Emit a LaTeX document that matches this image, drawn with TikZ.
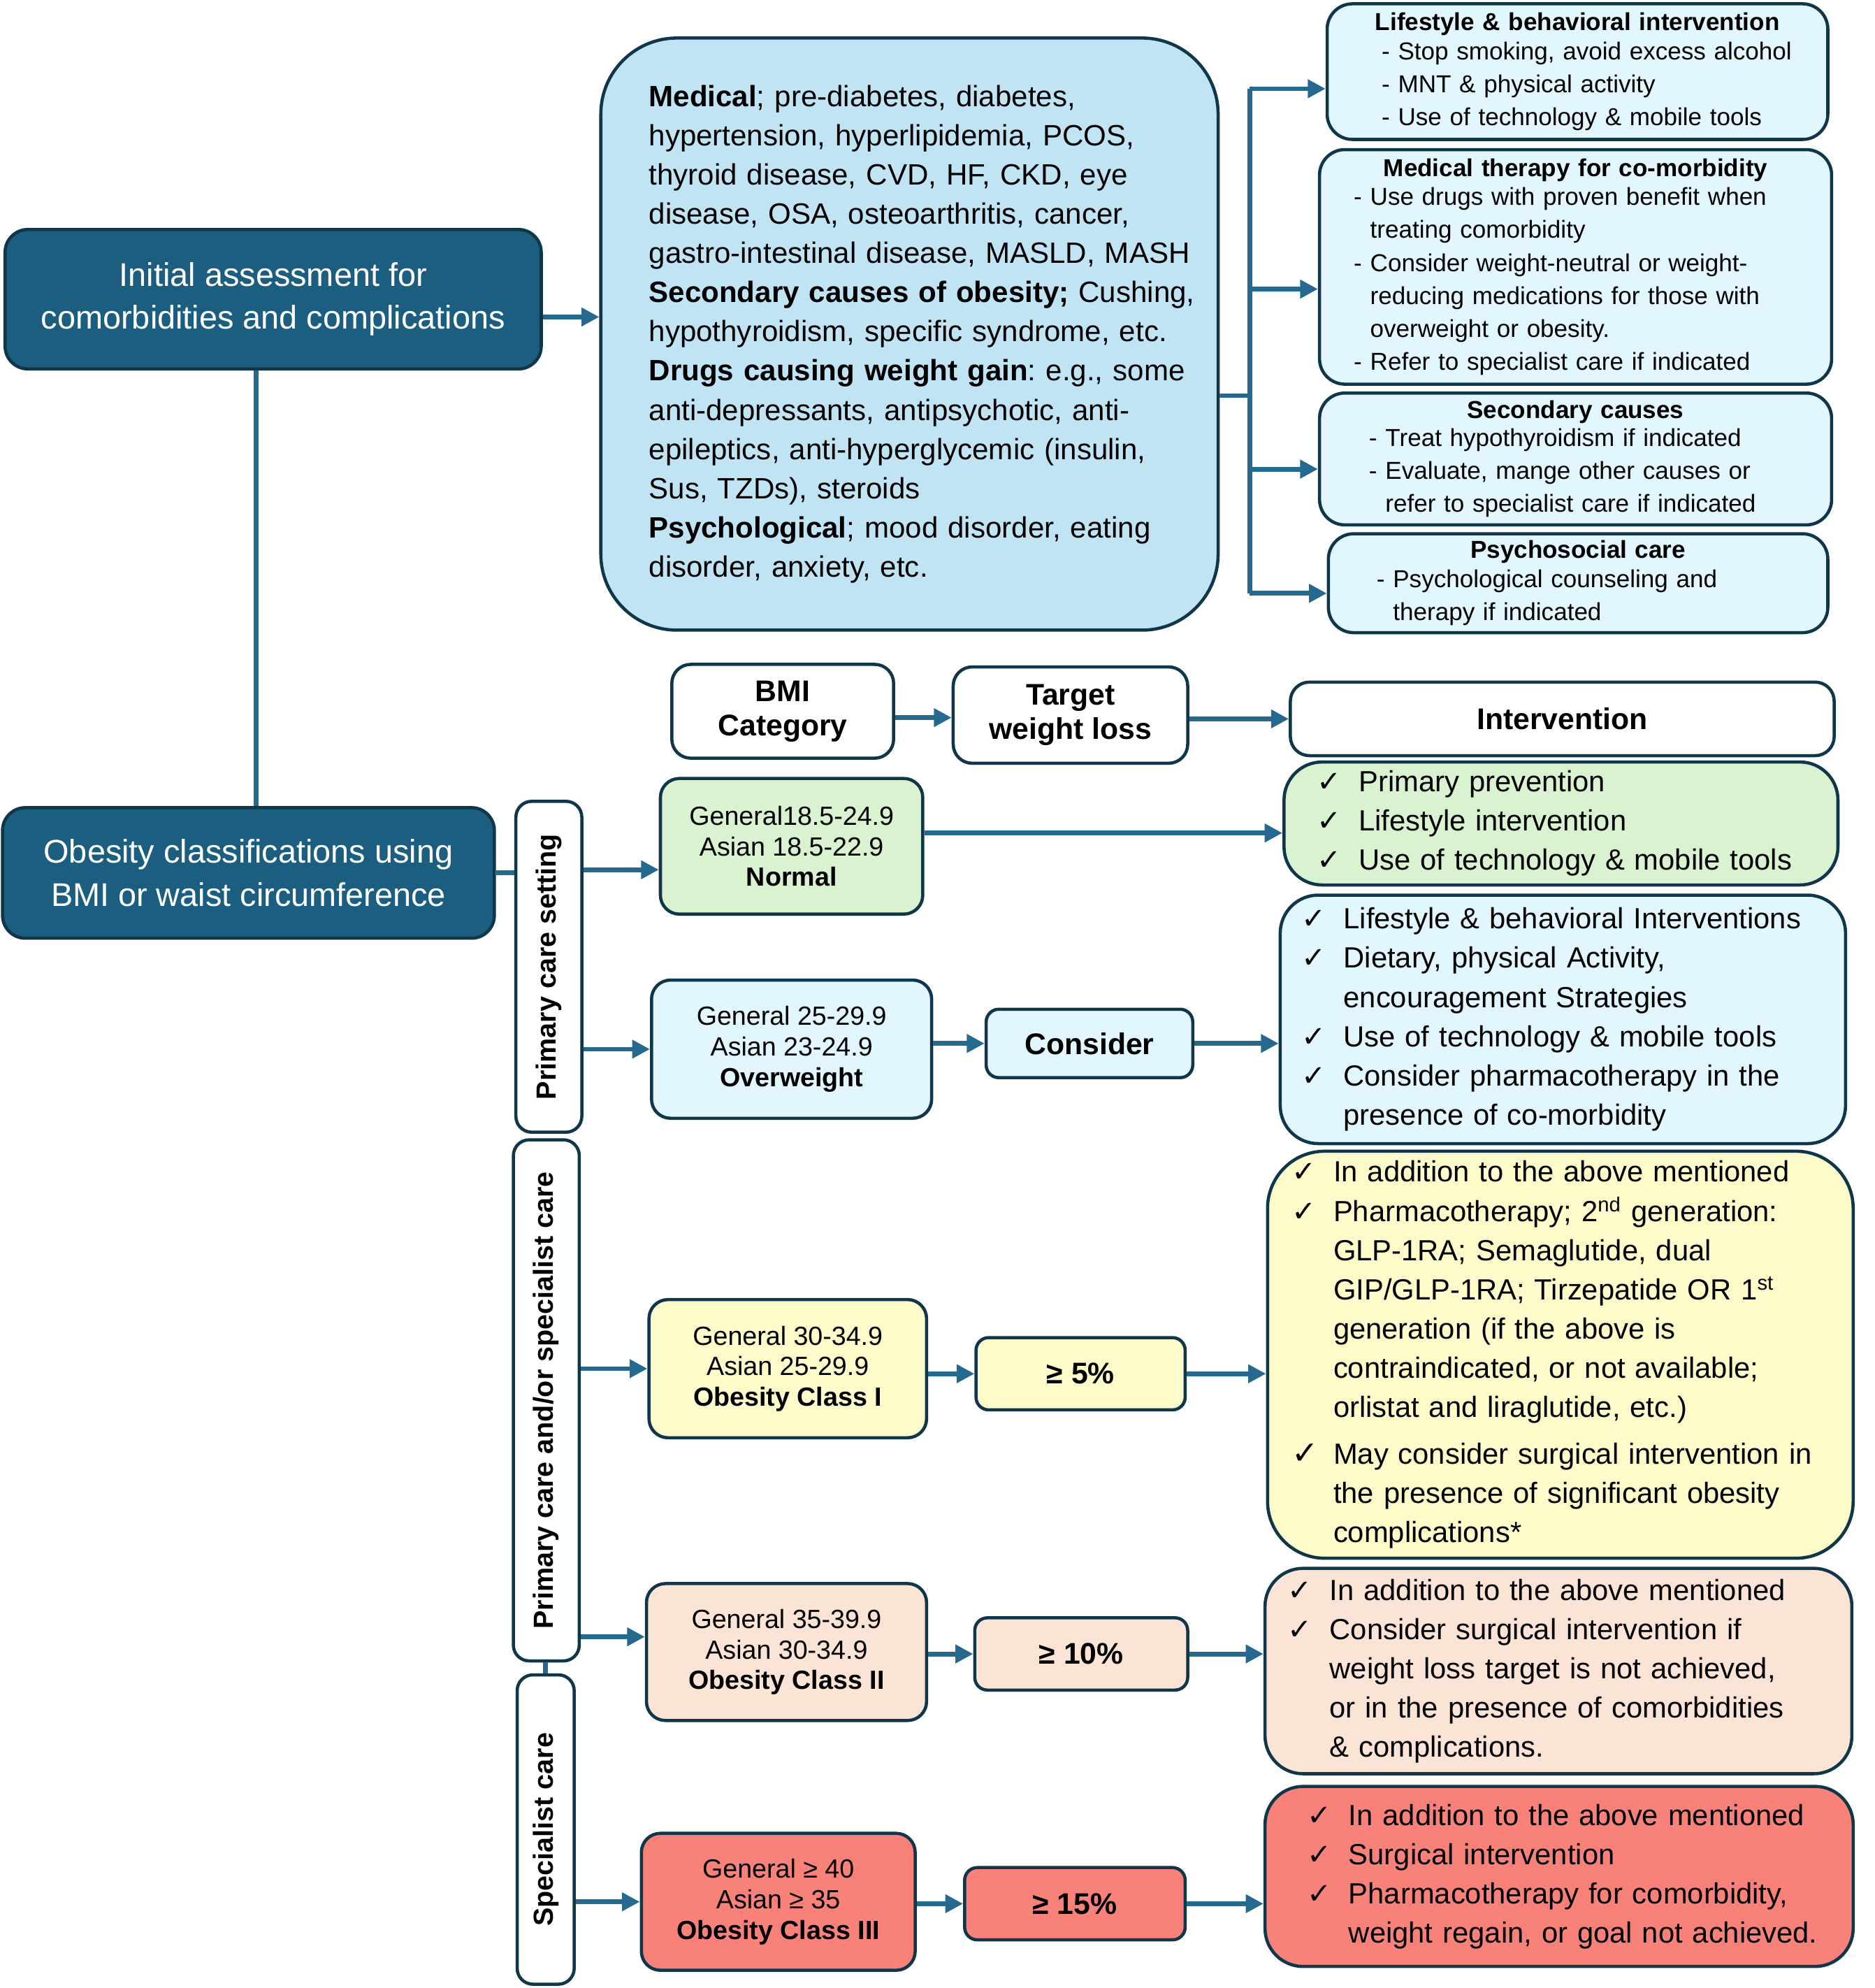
\documentclass[tikz,border=0pt]{standalone}
\usepackage{fontspec}
\setmainfont{Liberation Sans}
\newfontfamily\symf{DejaVu Sans}
\usepackage{graphicx}
\usetikzlibrary{arrows.meta,positioning,calc}

\definecolor{deepteal}{HTML}{1B5E80}
\definecolor{edgec}{HTML}{10364A}
\definecolor{arrowc}{HTML}{256A8E}
\definecolor{medfill}{HTML}{C1E4F5}
\definecolor{cyanfill}{HTML}{E2F6FD}
\definecolor{greenfill}{HTML}{D9F2D0}
\definecolor{yellowfill}{HTML}{FEFBCB}
\definecolor{peachfill}{HTML}{FBE3D6}
\definecolor{redfill}{HTML}{F8827A}

\frenchspacing
\hyphenpenalty=10000
\exhyphenpenalty=10000
\newcommand{\fdark}{\fontsize{14.7}{19.3}\selectfont}
\newcommand{\fmed}{\fontsize{13.2}{17.6}\selectfont}
\newcommand{\fsub}{\fontsize{11}{14.8}\selectfont}
\newcommand{\fint}{\fontsize{13.1}{17.6}\selectfont}
\newcommand{\fbmi}{\fontsize{11.8}{13.7}\selectfont}
\newcommand{\fhead}{\fontsize{13.4}{15.4}\selectfont\bfseries}
\newcommand{\fside}{\fontsize{12.4}{14}\selectfont\bfseries}

\newlength{\ckw}\setlength{\ckw}{5.4mm}
\newlength{\dshw}\setlength{\dshw}{2.6mm}
\newcommand{\oneline}[1]{\mbox{#1}}
\newcommand{\ckit}[1]{\mbox{\makebox[\ckw][l]{\hspace*{-1.2mm}{\symf ✓}}#1}}
\newcommand{\ckbig}[1]{\mbox{\makebox[\ckw][l]{\hspace*{-1.2mm}{\symf\Large ✓}}#1}}
\newcommand{\ckgo}[1]{\mbox{\hspace*{\ckw}#1}}
\newcommand{\dshit}[1]{\mbox{\makebox[\dshw][l]{-}#1}}
\newcommand{\dshgo}[1]{\mbox{\hspace*{\dshw}#1}}
\newcommand{\boxtitle}[1]{\makebox[\hsize]{\textbf{#1}}}

\begin{document}
\begin{tikzpicture}[
	x=0.2mm, y=-0.2mm,
	sz/.style 2 args={minimum width=#1mm, minimum height=#2mm, inner sep=0pt},
	darkbox/.style={draw=edgec, fill=deepteal, text=white, rounded corners=3.6mm,
		line width=0.5mm, font=\fdark, align=center},
	medbox/.style={draw=edgec, fill=medfill, rounded corners=12mm,
		line width=0.5mm, font=\fmed, align=left},
	subbox/.style={draw=edgec, fill=cyanfill, rounded corners=4mm,
		line width=0.5mm, font=\fsub, align=left},
	headbox/.style={draw=edgec, fill=white, rounded corners=3mm,
		line width=0.5mm, font=\fhead, align=center},
	bmibox/.style={draw=edgec, rounded corners=3mm, line width=0.5mm,
		font=\fbmi, align=center},
	tgtbox/.style={draw=edgec, rounded corners=2mm, line width=0.5mm, font=\fhead},
	ivbox/.style={draw=edgec, rounded corners=6mm, line width=0.5mm,
		font=\fint, align=left},
	sidebox/.style={draw=edgec, fill=white, rounded corners=2.5mm,
		line width=0.5mm, font=\fside},
	link/.style={draw=arrowc, line width=0.75mm},
	arr/.style={link, -{Triangle[length=2.8mm,width=2.8mm]}}
	]
	\useasboundingbox (0,0) rectangle (1479,1568);

	% assessment part
	\node[darkbox, sz={84.6}{22}] (init) at (215.5,236)
		{Initial assessment for\\comorbidities and complications};
	\node[medbox, sz={97.4}{93.4}, text width=82.2mm] (med) at (717.5,263.5) {%
		\oneline{\textbf{Medical}; pre-diabetes, diabetes,}\\
		\oneline{hypertension, hyperlipidemia, PCOS,}\\
		\oneline{thyroid disease, CVD, HF, CKD, eye}\\
		\oneline{disease, OSA, osteoarthritis, cancer,}\\
		\oneline{gastro-intestinal disease, MASLD, MASH}\\
		\oneline{\textbf{Secondary causes of obesity;} Cushing,}\\
		\oneline{hypothyroidism, specific syndrome, etc.}\\
		\oneline{\textbf{Drugs causing weight gain}: e.g., some}\\
		\oneline{anti-depressants, antipsychotic, anti-}\\
		\oneline{epileptics, anti-hyperglycemic (insulin,}\\
		\oneline{Sus, TZDs), steroids}\\
		\oneline{\textbf{Psychological}; mood disorder, eating}\\
		\oneline{disorder, anxiety, etc.}};
	\node[subbox, sz={79}{21.4}, text width=61.8mm] (lb1) at (1244.5,56.5) {%
		\boxtitle{Lifestyle \& behavioral intervention}\\[-0.6mm]
		\dshit{Stop smoking, avoid excess alcohol}\\
		\dshit{MNT \& physical activity}\\
		\dshit{Use of technology \& mobile tools}};
	\node[subbox, sz={80.8}{37}, text width=70mm] (lb2) at (1243,210.5) {%
		\boxtitle{Medical therapy for co-morbidity}\\[-0.6mm]
		\dshit{Use drugs with proven benefit when}\\
		\dshgo{treating comorbidity}\\
		\dshit{Consider weight-neutral or weight-}\\
		\dshgo{reducing medications for those with}\\
		\dshgo{overweight or obesity.}\\
		\dshit{Refer to specialist care if indicated}};
	\node[subbox, sz={80.8}{20.8}, text width=65.2mm] (lb3) at (1243,362) {%
		\boxtitle{Secondary causes}\\[-0.8mm]
		\dshit{Treat hypothyroidism if indicated}\\
		\dshit{Evaluate, mange other causes or}\\
		\dshgo{refer to specialist care if indicated}};
	\node[subbox, sz={78.8}{15.6}, text width=63.6mm] (lb4) at (1245,460) {%
		\boxtitle{Psychosocial care}\\[-0.6mm]
		\dshit{Psychological counseling and}\\
		\dshgo{therapy if indicated}};

	\coordinate (bus1) at (986,70);
	\coordinate (busm) at (986,312);
	\coordinate (bus4) at (986,468);
	\draw[arr] (init.east |- 0,250) -- (med.west |- 0,250);
	\draw[link] (med.east |- busm) -- (busm);
	\draw[link] (bus1) -- (bus4);
	\foreach \b/\y in {lb1/70, lb2/228, lb3/370, lb4/468}
		\draw[arr] (986,\y) -- (\b.west |- 0,\y);

	% classification part
	\node[darkbox, sz={77.6}{20.6}] (obes) at (196,688.5)
		{Obesity classifications using\\BMI or waist circumference};
	\node[headbox, sz={35}{14.8}] (bmihd) at (617.5,561) {BMI\\Category};
	\node[headbox, sz={37}{15.2}] (tgthd) at (844.5,564) {Target\\weight loss};
	\node[headbox, sz={85.8}{11.6}] (inthd) at (1232.5,567) {Intervention};

	\node[sidebox, sz={10.4}{52.2}] (side1) at (433,762.5)
		{\rotatebox{90}{Primary care setting}};
	\node[sidebox, sz={10.4}{82.2}] (side2) at (431,1104.5)
		{\rotatebox{90}{Primary care and/or specialist care}};
	\node[sidebox, sz={9}{48.8}] (side3) at (430.5,1443)
		{\rotatebox{90}{Specialist care}};

	\node[bmibox, fill=greenfill, sz={41.4}{21.4}] (normal) at (624.5,667.5)
		{General18.5-24.9\\Asian 18.5-22.9\\\textbf{Normal}};
	\node[bmibox, fill=cyanfill, sz={44.2}{21.8}] (over) at (624.5,827.5)
		{General 25-29.9\\Asian 23-24.9\\\textbf{Overweight}};
	\node[bmibox, fill=yellowfill, sz={43.8}{21.8}] (cls1) at (621.5,1079.5)
		{General 30-34.9\\Asian 25-29.9\\\textbf{Obesity Class I}};
	\node[bmibox, fill=peachfill, sz={44.2}{21.6}] (cls2) at (620.5,1303)
		{General 35-39.9\\Asian 30-34.9\\\textbf{Obesity Class II}};
	\node[bmibox, fill=redfill, sz={43.2}{21.6}] (cls3) at (614,1500)
		{General ≥ 40\\Asian ≥ 35\\\textbf{Obesity Class III}};

	\node[tgtbox, fill=cyanfill, sz={32.6}{10.8}] (consider) at (859.5,823) {Consider};
	\node[tgtbox, fill=yellowfill, sz={33}{11.4}] (t5) at (852.5,1083.5) {≥ 5\%};
	\node[tgtbox, fill=peachfill, sz={33.6}{11.4}] (t10) at (853,1304.5) {≥ 10\%};
	\node[tgtbox, fill=redfill, sz={34.8}{11.4}] (t15) at (848,1501.5) {≥ 15\%};

	\node[ivbox, fill=greenfill, sz={87.4}{19.4}, text width=74.6mm] (ivn) at (1231.5,649.5) {%
		\ckit{Primary prevention}\\
		\ckit{Lifestyle intervention}\\
		\ckit{Use of technology \& mobile tools}};
	\node[ivbox, fill=cyanfill, sz={89.2}{39.2}, text width=80mm] (ivo) at (1233,804) {%
		\ckit{Lifestyle \& behavioral Interventions}\\
		\ckit{Dietary, physical Activity,}\\
		\ckgo{encouragement Strategies}\\
		\ckit{Use of technology \& mobile tools}\\
		\ckit{Consider pharmacotherapy in the}\\
		\ckgo{presence of co-morbidity}};
	\node[ivbox, fill=yellowfill, rounded corners=9mm, sz={92.4}{64.2}, text width=82.4mm] (iv1) at (1231,1068.5) {%
		\ckit{In addition to the above mentioned}\\
		\ckit{Pharmacotherapy; 2\textsuperscript{nd} generation:}\\
		\ckgo{GLP-1RA; Semaglutide, dual}\\
		\ckgo{GIP/GLP-1RA; Tirzepatide OR 1\textsuperscript{st}}\\
		\ckgo{generation (if the above is}\\
		\ckgo{contraindicated, or not available;}\\
		\ckgo{orlistat and liraglutide, etc.)}\\[1.2mm]
		\ckbig{May consider surgical intervention in}\\
		\ckgo{the presence of significant obesity}\\
		\ckgo{complications*}};
	\node[ivbox, fill=peachfill, sz={92.6}{32.4}, text width=83mm] (iv2) at (1229.5,1318) {%
		\ckit{In addition to the above mentioned}\\
		\ckit{Consider surgical intervention if}\\
		\ckgo{weight loss target is not achieved,}\\
		\ckgo{or in the presence of comorbidities}\\
		\ckgo{\& complications.}};
	\node[ivbox, fill=redfill, sz={92.8}{28.4}, text width=77.2mm] (iv3) at (1230,1480) {%
		\ckit{In addition to the above mentioned}\\
		\ckit{Surgical intervention}\\
		\ckit{Pharmacotherapy for comorbidity,}\\
		\ckgo{weight regain, or goal not achieved.}};

	\draw[link] (init.south -| 202,0) -- (obes.north -| 202,0);
	\draw[link] (obes.east) -- (side1.west |- obes.east);
	\draw[link] (side2.south -| side3.north) -- (side3.north);
	\draw[arr] (bmihd.east |- 0,566) -- (tgthd.west |- 0,566);
	\draw[arr] (tgthd.east |- inthd.west) -- (inthd.west);
	\draw[arr] (side1.east |- 0,686) -- (normal.west |- 0,686);
	\draw[arr] (side1.east |- over.west) -- (over.west);
	\draw[arr] (side2.east |- cls1.west) -- (cls1.west);
	\draw[arr] (side2.east |- 0,1291) -- (cls2.west |- 0,1291);
	\draw[arr] (side3.east |- cls3.west) -- (cls3.west);
	\draw[arr] (normal.east |- 0,657) -- (ivn.west |- 0,657);
	\foreach \a/\b/\c in {over/consider/ivo, cls1/t5/iv1, cls2/t10/iv2, cls3/t15/iv3}
	{
		\draw[arr] (\a.east |- \b.west) -- (\b.west);
		\draw[arr] (\b.east) -- (\c.west |- \b.east);
	}
\end{tikzpicture}
\end{document}
